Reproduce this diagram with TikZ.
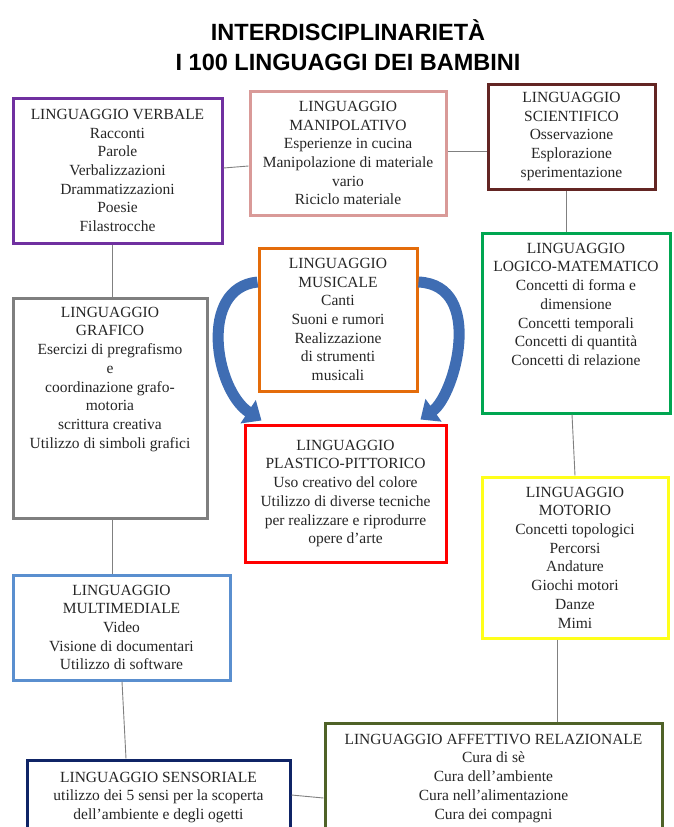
\documentclass[tikz,border=0pt]{standalone}
\usepackage{fontspec}
\setmainfont{Liberation Serif}
\newfontfamily\titlesans{Liberation Sans}
\usetikzlibrary{arrows.meta,calc}

\definecolor{verbcol}{HTML}{7030A0}
\definecolor{manipcol}{HTML}{D99A98}
\definecolor{scientcol}{HTML}{632523}
\definecolor{musiccol}{HTML}{E46C0A}
\definecolor{logicol}{HTML}{00A651}
\definecolor{grafcol}{HTML}{7F7F7F}
\definecolor{plastcol}{HTML}{FF0000}
\definecolor{motorcol}{HTML}{FFFF1A}
\definecolor{multicol}{HTML}{5A8FCF}
\definecolor{affetcol}{HTML}{4F6228}
\definecolor{senscol}{HTML}{0F2466}
\definecolor{arrowblue}{HTML}{3F6DB3}

% box text: [vertical position]{width}{height}{lines}
\newcommand{\lbox}[4][c]{\parbox[c][\dimexpr#3pt-8pt\relax][#1]{\dimexpr#2pt-8pt\relax}{\centering #4}}

\tikzset{
  lang/.style={draw=#1, line width=3pt, inner sep=4pt, fill=white,
    font=\fontsize{15.5}{18.7}\selectfont, text=black!85},
  link/.style={draw=black!50, line width=0.9pt},
  bendarrow/.style={draw=arrowblue, line width=11pt, -{Triangle[width=27pt,length=16pt]}},
  headline/.style={font=\titlesans\bfseries\fontsize{23.5}{28}\selectfont, anchor=base, inner sep=0pt}
}

\begin{document}
\begin{tikzpicture}[x=1pt,y=-1pt]
	\useasboundingbox (0,0) rectangle (673,827);

	\node[headline] (title1) at (348,40) {INTERDISCIPLINARIETÀ};
	\node[headline] (title2) at (348,70) {I 100 LINGUAGGI DEI BAMBINI};

	\node[lang=verbcol] (verbale) at (117.5,170.5) {\lbox{209}{145}{LINGUAGGIO VERBALE\\Racconti\\Parole\\Verbalizzazioni\\Drammatizzazioni\\Poesie\\Filastrocche}};
	\node[lang=manipcol] (manip) at (348,153) {\lbox{196}{124}{LINGUAGGIO\\MANIPOLATIVO\\Esperienze in cucina\\Manipolazione di materiale\\vario\\Riciclo materiale}};
	\node[lang=scientcol] (scient) at (571.5,136.5) {\lbox{167}{105}{LINGUAGGIO\\SCIENTIFICO\\Osservazione\\Esplorazione\\sperimentazione}};
	\node[lang=musiccol] (music) at (338,319.5) {\lbox{158}{143}{LINGUAGGIO\\MUSICALE\\Canti\\Suoni e rumori\\Realizzazione\\di strumenti\\musicali}};
	\node[lang=logicol] (logico) at (576,323) {\lbox[t]{188}{180}{\vspace*{6pt}LINGUAGGIO\\LOGICO-MATEMATICO\\Concetti di forma e\\dimensione\\Concetti temporali\\Concetti di quantità\\Concetti di relazione}};
	\node[lang=grafcol] (grafico) at (110,408) {\lbox[t]{194}{220}{\vspace*{5pt}LINGUAGGIO\\GRAFICO\\Esercizi di pregrafismo\\e\\coordinazione grafo-\\motoria\\scrittura creativa\\Utilizzo di simboli grafici}};
	\node[lang=plastcol] (plastico) at (345.5,493.5) {\lbox{201}{137}{LINGUAGGIO\\PLASTICO-PITTORICO\\Uso creativo del colore\\Utilizzo di diverse tecniche\\per realizzare e riprodurre\\opere d'arte}};
	\node[lang=motorcol] (motorio) at (575,557.5) {\lbox{186}{161}{LINGUAGGIO\\MOTORIO\\Concetti topologici\\Percorsi\\Andature\\Giochi motori\\Danze\\Mimi}};
	\node[lang=multicol] (multi) at (121.5,627.5) {\lbox{217}{105}{LINGUAGGIO\\MULTIMEDIALE\\Video\\Visione di documentari\\Utilizzo di software}};
	\node[lang=affetcol] (affett) at (493.5,778.5) {\lbox[t]{337}{111}{\vspace*{7pt}LINGUAGGIO AFFETTIVO RELAZIONALE\\Cura di sè\\Cura dell'ambiente\\Cura nell'alimentazione\\Cura dei compagni}};
	\node[lang=senscol] (sens) at (158.5,797) {\lbox[t]{263}{74}{\vspace*{8pt}LINGUAGGIO SENSORIALE\\utilizzo dei 5 sensi per la scoperta\\dell'ambiente e degli ogetti}};

	\draw[link] (verbale.east |- 0,168) -- (manip.west |- 0,166);
	\draw[link] (manip.east |- 0,151) -- (scient.west |- 0,151);
	\draw[link] (scient.south -| 566,0) -- (logico.north -| 566,0);
	\draw[link] (logico.south -| 572,0) -- (motorio.north -| 575,0);
	\draw[link] (motorio.south -| 557,0) -- (affett.north -| 557,0);
	\draw[link] (verbale.south -| 112,0) -- (grafico.north -| 112,0);
	\draw[link] (grafico.south -| 112,0) -- (multi.north -| 112,0);
	\draw[link] (multi.south -| 122,0) -- (sens.north -| 126,0);
	\draw[link] (sens.east |- 0,795) -- (affett.west |- 0,798);

	\draw[bendarrow] (music.west |- 0,282) .. controls (198,288) and (215,390) .. ($(plastico.north west)+(18,-3)$);
	\draw[bendarrow] (music.east |- 0,282) .. controls (485,285) and (455,395) .. ($(plastico.north east)+(-27,-4)$);
\end{tikzpicture}
\end{document}
